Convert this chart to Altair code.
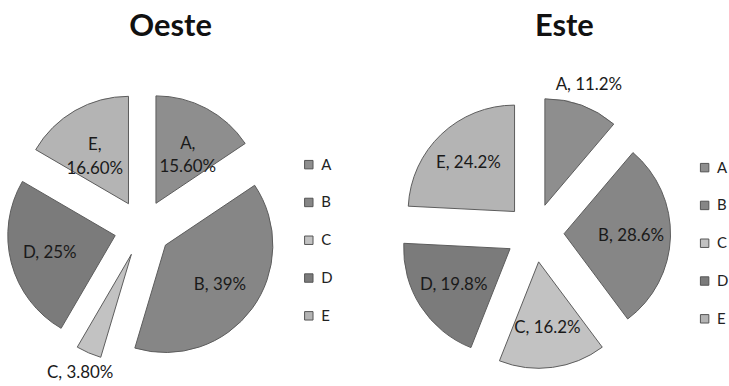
import altair as alt
import pandas as pd

categories = ["A", "B", "C", "D", "E"]
titles = ["Oeste", "Este"]
oeste_values = [15.6, 39.0, 3.8, 25.0, 16.6]
este_values = [11.2, 28.6, 16.2, 19.8, 24.2]
oeste_labels = ["A,\n15.60%", "B, 39%", "C, 3.80%", "D, 25%", "E,\n16.60%"]
este_labels = ["A, 11.2%", "B, 28.6%", "C, 16.2%", "D, 19.8%", "E, 24.2%"]
oeste_outside = [False, False, True, False, False]
este_outside = [True, False, False, False, False]
colors = ["#8e8e8e", "#868686", "#c2c2c2", "#7b7b7b", "#b4b4b4"]

FONT = "Lato"


def panel(title, values, labels, outside, width, cx, cy, R, explode, title_x, legend_x, legend_y):
    df = pd.DataFrame({
        "cat": categories,
        "value": values,
        "label": labels,
        "outside": outside,
        "order": list(range(len(categories))),
    })
    base = alt.Chart(df).transform_window(
        cum="sum(value)", sort=[alt.SortField("order")], frame=[None, 0]
    ).transform_calculate(
        a0="(datum.cum - datum.value) / 100 * 2 * PI",
        a1="datum.cum / 100 * 2 * PI",
    ).transform_calculate(
        mid="(datum.a0 + datum.a1) / 2",
    ).transform_calculate(
        px=f"{cx} + {explode} * sin(datum.mid)",
        py=f"{cy} - {explode} * cos(datum.mid)",
        lr=f"datum.outside ? {R * 1.2} : {R * 0.63}",
    ).transform_calculate(
        lx="datum.px + datum.lr * sin(datum.mid)",
        ly="datum.py - datum.lr * cos(datum.mid)",
    )

    arcs = base.mark_arc(radius=R, stroke="#5c5c5c", strokeWidth=1).encode(
        x=alt.X("px:Q", scale=None, axis=None),
        y=alt.Y("py:Q", scale=None, axis=None),
        theta=alt.Theta("a0:Q", scale=None),
        theta2="a1:Q",
        color=alt.Color(
            "cat:N",
            scale=alt.Scale(domain=categories, range=colors),
            legend=alt.Legend(
                orient="none", legendX=legend_x, legendY=legend_y, title=None,
                symbolType="square", symbolSize=72, symbolStrokeColor="#555555",
                symbolStrokeWidth=1, labelFont=FONT, labelFontSize=15,
                labelColor="#222222", rowPadding=22, labelOffset=5,
            ),
        ),
    )

    texts = base.mark_text(font=FONT, fontSize=17, lineBreak="\n", color="#1a1a1a",
                           baseline="middle", lineHeight=24).encode(
        x=alt.X("lx:Q", scale=None, axis=None),
        y=alt.Y("ly:Q", scale=None, axis=None),
        text="label:N",
    )

    ttl = alt.Chart(pd.DataFrame({"t": [title]})).mark_text(
        font=FONT, fontWeight="bold", fontSize=31, baseline="alphabetic", color="#111111"
    ).encode(x=alt.value(title_x), y=alt.value(35), text="t:N")

    return alt.layer(arcs, texts, ttl).properties(width=width, height=386)


oeste = panel(titles[0], oeste_values, oeste_labels, oeste_outside, 364,
              143.4, 228.5, 108, 28.5, 171.5, 303, 157)
este = panel(titles[1], este_values, este_labels, este_outside, 365,
             173.7, 233, 107, 29.5, 203.5, 337, 160)

chart = alt.hconcat(oeste, este, spacing=0).resolve_scale(
    color="independent"
).configure_view(stroke=None).properties(padding=0, background="white")

chart.save("out.html", embed_options={"renderer": "svg", "actions": False})
